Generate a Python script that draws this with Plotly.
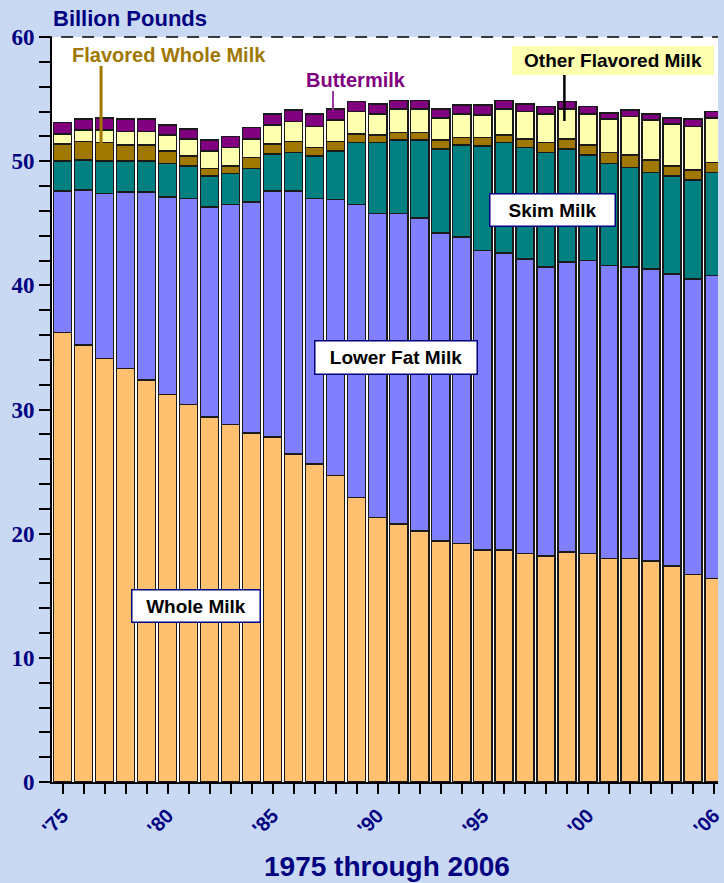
import plotly.graph_objects as go

years = list(range(1975, 2007))
whole_milk = [36.2, 35.2, 34.1, 33.3, 32.4, 31.2, 30.4, 29.4, 28.8, 28.1, 27.8, 26.4, 25.6, 24.7, 22.9, 21.3,
              20.8, 20.2, 19.4, 19.2, 18.7, 18.7, 18.4, 18.2, 18.5, 18.4, 18.0, 18.0, 17.8, 17.4, 16.7, 16.4]
lower_fat = [11.4, 12.5, 13.3, 14.2, 15.1, 15.9, 16.6, 16.9, 17.7, 18.6, 19.8, 21.2, 21.4, 22.2, 23.6, 24.5,
             25.0, 25.2, 24.8, 24.7, 24.1, 23.9, 23.7, 23.3, 23.4, 23.6, 23.6, 23.5, 23.5, 23.5, 23.8, 24.4]
skim = [2.4, 2.4, 2.6, 2.5, 2.5, 2.7, 2.6, 2.5, 2.5, 2.7, 3.0, 3.1, 3.4, 3.9, 5.0, 5.7,
        5.9, 6.3, 6.8, 7.4, 8.4, 8.9, 9.0, 9.2, 9.1, 8.5, 8.2, 8.0, 7.8, 7.9, 8.0, 8.3]
flavored_whole = [1.4, 1.5, 1.5, 1.3, 1.3, 1.0, 0.8, 0.6, 0.6, 0.9, 0.8, 0.9, 0.7, 0.8, 0.7, 0.6,
                  0.6, 0.6, 0.7, 0.6, 0.7, 0.6, 0.7, 0.8, 0.8, 0.8, 0.9, 1.0, 1.0, 0.8, 0.8, 0.8]
other_flavored = [0.8, 0.9, 1.0, 1.1, 1.1, 1.3, 1.4, 1.4, 1.5, 1.5, 1.5, 1.6, 1.7, 1.7, 1.8, 1.7,
                  1.9, 1.9, 1.8, 1.9, 1.8, 2.1, 2.2, 2.3, 2.4, 2.5, 2.7, 3.1, 3.2, 3.4, 3.5, 3.6]
buttermilk = [0.9, 0.9, 1.0, 1.0, 1.0, 0.8, 0.8, 0.9, 0.9, 0.9, 0.9, 0.9, 1.0, 0.9, 0.8, 0.8,
              0.7, 0.7, 0.7, 0.7, 0.8, 0.7, 0.6, 0.6, 0.6, 0.6, 0.5, 0.5, 0.5, 0.5, 0.6, 0.5]

tick_years = [1975, 1980, 1985, 1990, 1995, 2000, 2006]
tick_labels = ["'75", "'80", "'85", "'90", "'95", "'00", "'06"]
y_ticks = [0, 10, 20, 30, 40, 50, 60]

series = [
    ("Whole Milk", whole_milk, "#FFC070"),
    ("Lower Fat Milk", lower_fat, "#8080FF"),
    ("Skim Milk", skim, "#008080"),
    ("Flavored Whole Milk", flavored_whole, "#A07800"),
    ("Other Flavored Milk", other_flavored, "#FFFFB0"),
    ("Buttermilk", buttermilk, "#800080"),
]

W, H = 724, 883
L, T, B = 52, 37, 782
R = W

fig = go.Figure()
for name, vals, col in series:
    fig.add_trace(go.Bar(
        x=years, y=vals, name=name, width=0.86,
        marker=dict(color=col, line=dict(color="#1a1a1a", width=1.6)),
        showlegend=False,
    ))

px_per_year = 21.2
x_lo = 1974.5
x_hi = x_lo + (R - L) / px_per_year


def px(xp):
    return (xp - L) / (R - L)


def py(yp):
    return (B - yp) / (B - T)


navy = "#000080"
ann = []


def box(text, cx, cy, w, h, bg="white", border=navy, color="black", size=19, bw=1.5):
    ann.append(dict(text=text, x=px(cx), y=py(cy), xref="paper", yref="paper",
                    showarrow=False, width=w, height=h, bgcolor=bg,
                    bordercolor=border, borderwidth=bw,
                    font=dict(family="Liberation Sans", size=size, color=color, weight="bold"),
                    xanchor="center", yanchor="middle"))


def label(text, cx, cy, color, size=19, anchor="center"):
    ann.append(dict(text=text, x=px(cx), y=py(cy), xref="paper", yref="paper",
                    showarrow=False, xanchor=anchor, yanchor="middle",
                    font=dict(family="Liberation Sans", size=size, color=color, weight="bold")))


box("Whole Milk", 197, 606, 125, 29)
box("Lower Fat Milk", 399, 357, 159, 30)
box("Skim Milk", 557, 210, 122, 29)
box("Other Flavored Milk", 618, 60, 200, 27, bg="#FFFFB0", border="rgba(0,0,0,0)", bw=0)

label("Flavored Whole Milk", 170, 55, "#A07800", size=20)
label("Buttermilk", 359, 80, "#800080", size=20)
label("Billion Pounds", 51, 18, navy, size=22, anchor="left")
label("1975 through 2006", 390, 866, navy, size=28)

shapes = [
    dict(type="line", xref="paper", yref="paper", x0=px(40), x1=1, y0=1, y1=1,
         line=dict(color="black", width=1.5, dash="12px,9px")),
    dict(type="line", xref="paper", yref="paper", x0=px(101.5), x1=px(101.5), y0=py(66), y1=py(143),
         line=dict(color="#A07800", width=3)),
    dict(type="line", xref="paper", yref="paper", x0=px(335.5), x1=px(335.5), y0=py(91), y1=py(110),
         line=dict(color="#9933A0", width=2)),
    dict(type="line", xref="paper", yref="paper", x0=px(569), x1=px(569), y0=py(75), y1=py(121),
         line=dict(color="black", width=2.5)),
]

fig.update_layout(
    barmode="stack",
    width=W, height=H,
    margin=dict(l=L, r=W - R, t=T, b=H - B),
    paper_bgcolor="#C9D8F3",
    plot_bgcolor="white",
    annotations=ann,
    shapes=shapes,
    bargap=0.14,
)
fig.update_xaxes(
    range=[x_lo, x_hi], tickvals=tick_years, ticktext=tick_labels,
    tickangle=-45, ticks="outside", ticklen=10, tickcolor="black", tickwidth=1.5,
    ticklabelstandoff=2, ticklabeloverflow="allow",
    minor=dict(dtick=1, tick0=1975, ticks="outside", ticklen=10, tickcolor="black", tickwidth=1.5, showgrid=False),
    showline=True, linecolor="black", linewidth=2, showgrid=False, zeroline=False,
    tickfont=dict(family="Liberation Sans", size=20, color=navy, weight="bold"),
)
fig.update_yaxes(
    range=[0, 60], tickvals=y_ticks, ticks="outside", ticklen=11, tickcolor="black", tickwidth=1.5,
    minor=dict(dtick=2, tick0=0, ticks="outside", ticklen=11, tickcolor="black", tickwidth=1.5, showgrid=False),
    showline=True, linecolor="black", linewidth=2, showgrid=False, zeroline=False,
    tickfont=dict(family="Liberation Serif", size=23, color=navy, weight="bold"),
)

fig.write_html("out.html")
